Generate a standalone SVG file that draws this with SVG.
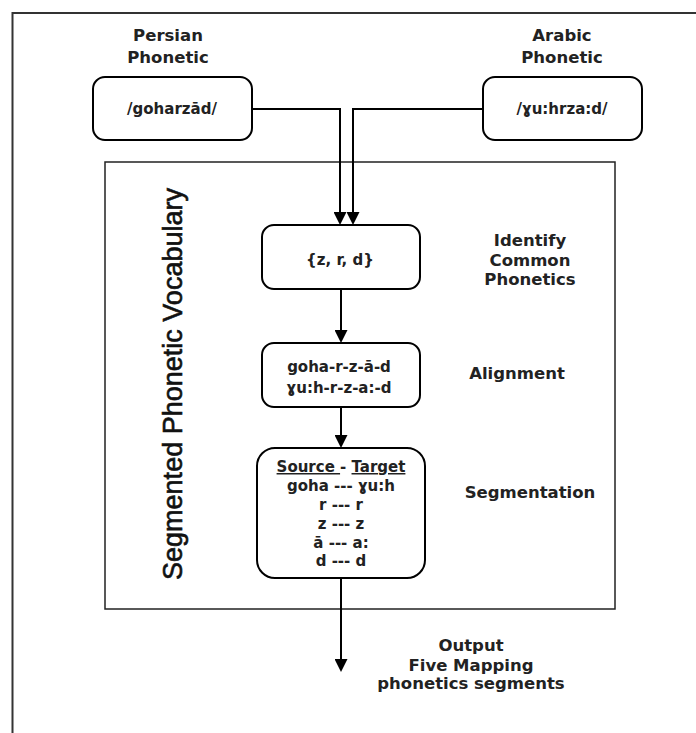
<svg xmlns="http://www.w3.org/2000/svg" width="696" height="733" viewBox="0 0 696 733">
<style>
.box{fill:#fff;stroke:#000;stroke-width:2}
.t{font-family:"DejaVu Sans","Verdana",sans-serif;font-weight:bold;fill:#222;text-anchor:middle}
.lbl{font-size:16.5px}
.in{font-size:15px}
.conn{fill:none;stroke:#000;stroke-width:2}
.u{text-decoration:underline}
</style>
<defs>
<marker id="arr" markerUnits="userSpaceOnUse" markerWidth="13" markerHeight="13" viewBox="0 0 13 13" refX="11" refY="6.5" orient="auto">
<path d="M0,0 L13,6.5 L0,13 z" fill="#000"/>
</marker>
</defs>
<rect width="696" height="733" fill="#fff"/>
<rect id="outer-frame" x="12.5" y="13" width="700" height="740" fill="none" stroke="#333" stroke-width="2"/>
<g id="container">
<rect x="105" y="162" width="510" height="447" fill="none" stroke="#222" stroke-width="1.5"/>
<text x="182" y="384" transform="rotate(-90 182 384)" font-family="'Liberation Sans',Arial,sans-serif" font-size="27" fill="#111" stroke="#111" stroke-width="0.6" text-anchor="middle" textLength="392" lengthAdjust="spacingAndGlyphs">Segmented Phonetic Vocabulary</text>
</g>
<g id="connectors">
<path class="conn" d="M252 109 H340 V223" marker-end="url(#arr)"/>
<path class="conn" d="M483 109 H353 V223" marker-end="url(#arr)"/>
<path class="conn" d="M341 289 V341" marker-end="url(#arr)"/>
<path class="conn" d="M341 407 V446" marker-end="url(#arr)"/>
<path class="conn" d="M341 578 V670" marker-end="url(#arr)"/>
</g>
<g id="persian-label"><text class="t lbl" x="168" y="41">Persian</text><text class="t lbl" x="168" y="63">Phonetic</text></g>
<g id="arabic-label"><text class="t lbl" x="562" y="41">Arabic</text><text class="t lbl" x="562" y="63">Phonetic</text></g>
<g id="persian"><rect class="box" x="93" y="77" width="159" height="63" rx="12"/><text class="t in" x="172" y="114">/goharzād/</text></g>
<g id="arabic"><rect class="box" x="483" y="77" width="159" height="63" rx="12"/><text class="t in" x="562" y="114">/ɣu:hrza:d/</text></g>
<g id="common"><rect class="box" x="262" y="225" width="158" height="64" rx="12"/><text class="t in" x="340" y="265">{z, r, d}</text></g>
<g id="alignment"><rect class="box" x="262" y="343" width="158" height="64" rx="12"/><text class="t in" x="339" y="372">goha-r-z-ā-d</text><text class="t in" x="339" y="393">ɣu:h-r-z-a:-d</text></g>
<g id="segmentation"><rect class="box" x="257" y="448" width="168" height="130" rx="18"/>
<text class="t in" x="341" y="472"><tspan class="u">Source </tspan>- <tspan class="u">Target</tspan></text>
<text class="t in" x="341" y="491">goha --- ɣu:h</text>
<text class="t in" x="341" y="510">r --- r</text>
<text class="t in" x="341" y="529">z --- z</text>
<text class="t in" x="341" y="548">ā --- a:</text>
<text class="t in" x="341" y="566">d --- d</text>
</g>
<g id="step-labels">
<text class="t lbl" x="530" y="246">Identify</text>
<text class="t lbl" x="530" y="265.5">Common</text>
<text class="t lbl" x="530" y="285">Phonetics</text>
<text class="t lbl" x="517" y="379">Alignment</text>
<text class="t lbl" x="530" y="498">Segmentation</text>
</g>
<g id="output"><text class="t lbl" x="471" y="651">Output</text><text class="t lbl" x="471" y="671">Five Mapping</text><text class="t lbl" x="471" y="689">phonetics segments</text></g>
</svg>
